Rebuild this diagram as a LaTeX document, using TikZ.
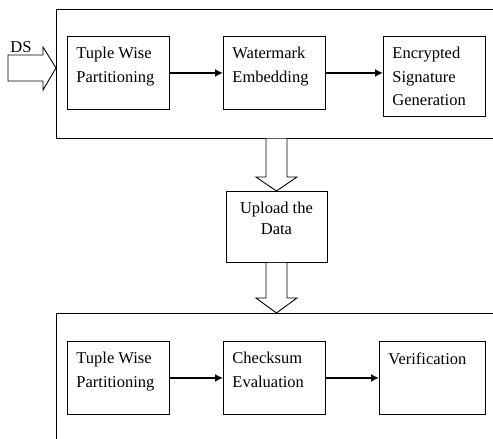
\documentclass[tikz,border=0pt]{standalone}
\usepackage{fontspec}
\setmainfont{Liberation Serif}
\usetikzlibrary{arrows.meta,calc}

\begin{document}
\begin{tikzpicture}[x=1pt,y=1pt,font=\fontsize{16.5}{23.5}\selectfont]
			\tikzstyle{side} = [draw, line width=0.7pt, anchor=north west, inner sep=0pt]
			\tikzstyle{stage} = [draw, line width=0.9pt, anchor=north west, inner xsep=9pt, inner ysep=11pt]
			\tikzstyle{hollow} = [draw, line width=0.9pt, fill=white]
			\tikzset{edge/.style = {line width=2pt, -{Latex[length=8pt,width=8pt]}}}
			
			\useasboundingbox (0,0) rectangle (493,439);
			\clip (0,0) rectangle (493,439);
			
			% embedding side
			\node[side, minimum width=444pt, minimum height=129pt](embedside) at (56,430) {};
			\node[stage](partition) at (67,403) {\parbox[t][51pt][t]{84pt}{Tuple Wise\\Partitioning}};
			\node[stage](embed) at (223,403) {\parbox[t][51pt][t]{84pt}{Watermark\\Embedding}};
			\node[stage](signature) at (383,403) {\parbox[t][58pt][t]{84pt}{Encrypted\\Signature\\Generation}};
			\draw[edge](partition) to (embed);
			\draw[edge](embed.east) to (embed.east -| signature.west);
			
			% input
			\node[anchor=base](ds) at (21,386) {DS};
			\coordinate (dstail) at (8,371);
			\coordinate (dstip) at (56,371);
			\draw[hollow] ($(dstail)+(0,13)$) -- ($(dstip)+(-13,13)$) -- ($(dstip)+(-13,21)$) -- (dstip)
				-- ($(dstip)+(-13,-22)$) -- ($(dstip)+(-13,-13)$) -- ($(dstail)+(0,-13)$) -- cycle;
			
			% upload
			\node[stage, inner xsep=9pt](upload) at (225.5,248) {\parbox[t][49pt][t]{83pt}{\centering Upload the\\[-3pt]Data}};
			\draw[hollow] ($(embedside.south -| upload.north)+(-10.5,0)$) -- ($(upload.north)+(-10.5,14)$)
				-- ($(upload.north)+(-20.5,14)$) -- (upload.north) -- ($(upload.north)+(20.5,14)$)
				-- ($(upload.north)+(10.5,14)$) -- ($(embedside.south -| upload.north)+(10.5,0)$);
			
			% verification side
			\node[side, minimum width=444pt, minimum height=140pt](verifyside) at (56,126) {};
			\coordinate (uploadtip) at (verifyside.north -| upload.south);
			\draw[hollow] ($(upload.south)+(-10.5,0)$) -- ($(uploadtip)+(-10.5,15)$)
				-- ($(uploadtip)+(-20.5,15)$) -- (uploadtip) -- ($(uploadtip)+(20.5,15)$)
				-- ($(uploadtip)+(10.5,15)$) -- ($(upload.south)+(10.5,0)$);
			\node[stage](partition2) at (67,98) {\parbox[t][51pt][t]{84pt}{Tuple Wise\\Partitioning}};
			\node[stage](checksum) at (223,98) {\parbox[t][51pt][t]{84pt}{Checksum\\Evaluation}};
			\node[stage](verify) at (379,98) {\parbox[t][51pt][t]{88pt}{Verification}};
			\draw[edge](partition2) to (checksum);
			\draw[edge](checksum) to (verify);
			
\end{tikzpicture}
\end{document}
